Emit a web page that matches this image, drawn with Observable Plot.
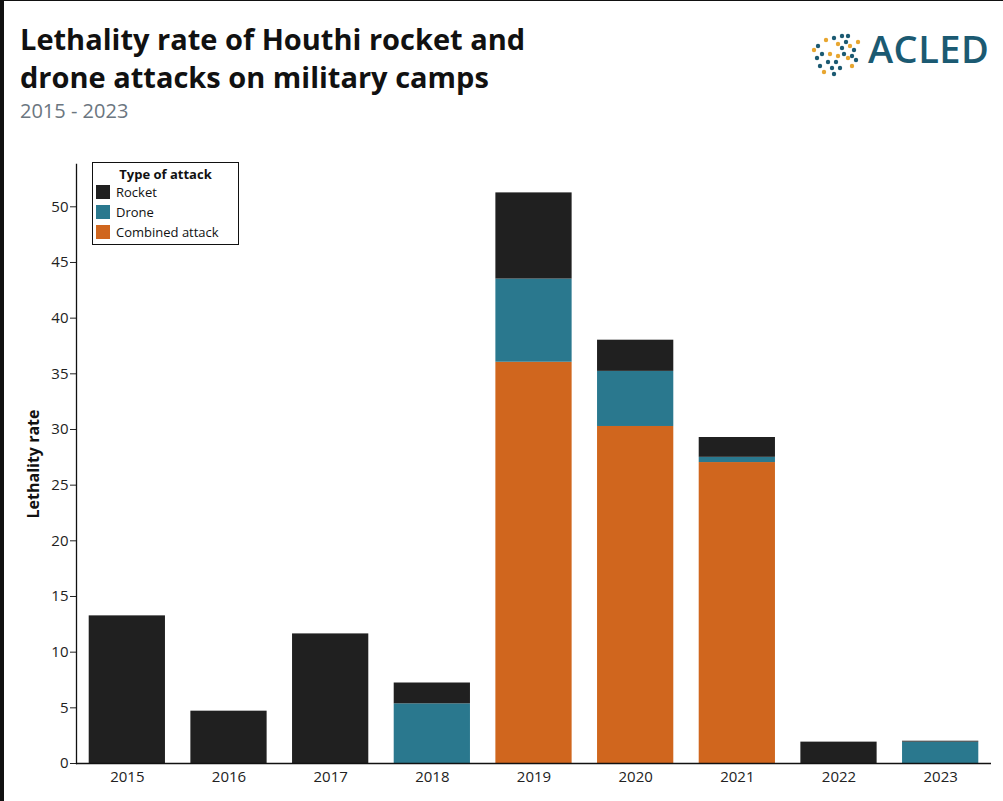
<!DOCTYPE html>
<html>
<head>
<meta charset="utf-8">
<script src="https://cdn.jsdelivr.net/npm/d3@7"></script>
<script src="https://cdn.jsdelivr.net/npm/@observablehq/plot@0.6"></script>
<style>
  html, body { margin: 0; padding: 0; background: #fff; }
  body { width: 1003px; height: 801px; position: relative; overflow: hidden; font-family: "Open Sans", sans-serif; }
  #border { position: absolute; left: 0; top: 0; width: 1003px; height: 801px; box-sizing: border-box; border-left: 4px solid #111; border-top: 1px solid #111; pointer-events: none; }
  #title { position: absolute; left: 20px; top: 20px; font-size: 29px; font-weight: 700; line-height: 38px; color: #111; }
  #subtitle { position: absolute; left: 20px; top: 97px; font-size: 20px; color: #6b7680; }
  #logo { position: absolute; left: 808px; top: 28px; }
  #logo span { position: absolute; left: 60px; top: -6px; font-size: 38px; font-weight: 600; color: #1b5a72; letter-spacing: 0.5px; }
  #chart { position: absolute; left: 0; top: 140px; }
  #chart svg g[aria-label="x-axis tick label"] text,
  #chart svg g[aria-label="y-axis tick label"] text { font-size: 15px !important; font-family: "Open Sans", sans-serif !important; fill: #222; }
  #legend { position: absolute; left: 92px; top: 162px; width: 145px; height: 81px; border: 1px solid #111; background: #fff; font-size: 13px; color: #111; }
  #legend .t { position: absolute; left: 0; width: 100%; top: 2px; text-align: center; font-weight: 700; }
  #legend .i { position: absolute; left: 3px; height: 14px; line-height: 14px; }
  #legend .i b { display: inline-block; width: 14px; height: 14px; vertical-align: top; margin-right: 6px; }
</style>
</head>
<body>
<div id="title">Lethality rate of Houthi rocket and<br>drone attacks on military camps</div>
<div id="subtitle">2015 - 2023</div>
<div id="logo"><svg id="dots" width="56" height="50"></svg><span>ACLED</span></div>
<div id="chart"></div>
<div id="legend"></div>
<div id="border"></div>
<script>
const years = ["2015","2016","2017","2018","2019","2020","2021","2022","2023"];
const rocket   = [13.26, 4.70, 11.64, 1.87, 7.74, 2.80, 1.78, 1.92, 0.08];
const drone    = [0, 0, 0, 5.36, 7.47, 4.95, 0.47, 0, 1.92];
const combined = [0, 0, 0, 0, 36.04, 30.27, 27.03, 0, 0];
const types = ["Rocket", "Drone", "Combined attack"];
const colors = ["#202020", "#2a788e", "#d0661e"];
const yTicks = [0, 5, 10, 15, 20, 25, 30, 35, 40, 45, 50];

// stacking order: combined at bottom, then drone, then rocket on top
const rows = [];
years.forEach((y, i) => rows.push({year: y, type: "Combined attack", value: combined[i]}));
years.forEach((y, i) => rows.push({year: y, type: "Drone", value: drone[i]}));
years.forEach((y, i) => rows.push({year: y, type: "Rocket", value: rocket[i]}));

const chart = Plot.plot({
  width: 1003,
  height: 660,
  marginTop: 24,
  marginBottom: 37,
  marginLeft: 76,
  marginRight: 12,
  style: {fontFamily: "Open Sans, sans-serif", fontSize: "15px", color: "#222", background: "transparent"},
  x: {domain: years, paddingInner: 0.25, paddingOuter: 0.125, round: false, label: null},
  y: {domain: [0, 53.8], label: null},
  color: {domain: types, range: colors},
  marks: [
    Plot.barY(rows, {x: "year", y: "value", fill: "type"}),
    Plot.axisX({tickSize: 0, tickPadding: 8, label: null, fontSize: 15}),
    Plot.axisY({ticks: yTicks, tickSize: 6, tickPadding: 2, label: null, fontSize: 15}),
    Plot.ruleY([0], {stroke: "#111", strokeWidth: 1.3}),
    Plot.frame({anchor: "left", stroke: "#111", strokeWidth: 1.3}),
    Plot.text(["Lethality rate"], {frameAnchor: "left", textAnchor: "middle", rotate: -90, dx: -43, fontWeight: "bold", fontSize: 16, fill: "#111"})
  ]
});
document.getElementById("chart").appendChild(chart);

// legend
const lg = document.getElementById("legend");
lg.innerHTML = `<div class="t">Type of attack</div>` +
  types.map((t, i) => `<div class="i" style="top:${22 + i * 20}px"><b style="background:${colors[i]}"></b>${t}</div>`).join("");

// logo dots (decorative)
const dots = d3.select("#dots");
const pts = [[6,22],[9,30],[12,38],[16,44],[10,18],[26,10],[30,16],[34,20],[38,14],[42,18],[46,22],[36,26],[30,28],[28,34],[32,40],[40,30],[44,28],[48,32],[22,26],[20,34],[24,40],[50,14],[34,8],[40,8],[18,12],[14,26],[26,46],[44,38]];
dots.selectAll("circle").data(pts).join("circle")
  .attr("cx", d => d[0]).attr("cy", d => d[1]).attr("r", 2.2)
  .attr("fill", (d, i) => i % 3 === 0 ? "#e8a630" : "#1b5a72");
</script>
</body>
</html>
